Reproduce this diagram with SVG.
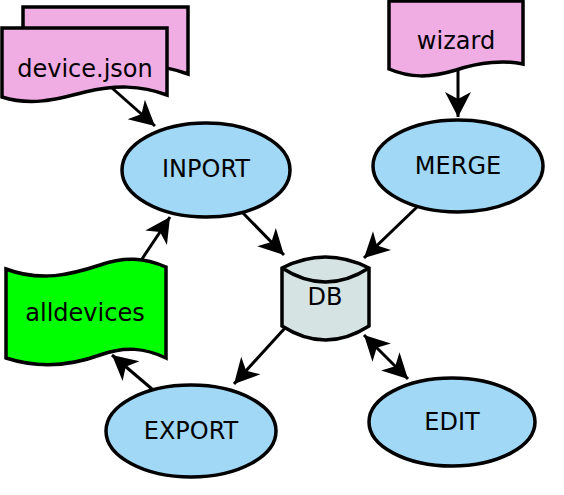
<svg xmlns="http://www.w3.org/2000/svg" width="564" height="495" viewBox="0 0 564 495">
<style>
.n{stroke:#000;stroke-width:3.5;stroke-linejoin:miter}
.proc{fill:#a0d8f5}
.doc{fill:#efade3}
.t{font-family:"DejaVu Sans",sans-serif;font-size:24px;fill:#000;text-anchor:middle}
.c{stroke:#000;stroke-width:3;fill:none}
</style>
<defs>
<marker id="ah" viewBox="-28 -15 30 30" refX="0" refY="0" markerWidth="30" markerHeight="30" markerUnits="userSpaceOnUse" orient="auto-start-reverse">
<path d="M0,0 L-25,-13 L-18,0 L-25,13 Z" fill="#000"/>
</marker>
</defs>
<rect width="564" height="495" fill="#fff"/>
<g id="connectors">
<line class="c" x1="112" y1="88" x2="155" y2="126" marker-end="url(#ah)"/>
<line class="c" x1="243" y1="213" x2="284" y2="255" marker-end="url(#ah)"/>
<line class="c" x1="417" y1="207" x2="364" y2="258" marker-end="url(#ah)"/>
<line class="c" x1="458" y1="69" x2="458" y2="117" marker-end="url(#ah)"/>
<line class="c" x1="285" y1="328" x2="234" y2="384" marker-end="url(#ah)"/>
<line class="c" x1="152" y1="389" x2="112" y2="355" marker-end="url(#ah)"/>
<line class="c" x1="140" y1="262" x2="170" y2="217" marker-end="url(#ah)"/>
<line class="c" x1="364" y1="335" x2="408" y2="379" marker-start="url(#ah)" marker-end="url(#ah)"/>
</g>
<g id="device-json">
<path class="n doc" d="M23,7 L188,7 L188,74 C161,64 136,64 106,71 C76,81 51,82 23,76 Z"/>
<path class="n doc" d="M2,28 L167,28 L167,95 C140,85 115,85 85,92 C55,100 30,106 2,97 Z"/>
<text class="t" x="85" y="77">device.json</text>
</g>
<g id="wizard">
<path class="n doc" d="M389,1 L523,1 L523,64 C505,60 480,62 456,70 C430,78 410,78 389,69 Z"/>
<text class="t" x="456" y="49">wizard</text>
</g>
<g id="inport">
<ellipse class="n proc" cx="206" cy="170" rx="84" ry="47"/>
<text class="t" x="206" y="177">INPORT</text>
</g>
<g id="merge">
<ellipse class="n proc" cx="458" cy="166" rx="85" ry="46"/>
<text class="t" x="458" y="174">MERGE</text>
</g>
<g id="db">
<path class="n" fill="#d6e3e3" d="M282,268 Q325.5,246 369,268 L369,326 Q325.5,354 282,326 Z"/>
<path class="n" fill="none" d="M282,268 Q325.5,296 369,268"/>
<text class="t" x="325" y="305">DB</text>
</g>
<g id="alldevices">
<path class="n" fill="#00ff00" d="M6,269 C40,282 70,275 100,265 C125,256 145,258 166,267 L166,358 C145,348 125,346 100,355 C70,366 40,369 6,358 Z"/>
<text class="t" x="85" y="321">alldevices</text>
</g>
<g id="export">
<ellipse class="n proc" cx="191" cy="431" rx="85" ry="46"/>
<text class="t" x="191" y="439">EXPORT</text>
</g>
<g id="edit">
<ellipse class="n proc" cx="452" cy="422" rx="83" ry="44"/>
<text class="t" x="452" y="430">EDIT</text>
</g>
</svg>
